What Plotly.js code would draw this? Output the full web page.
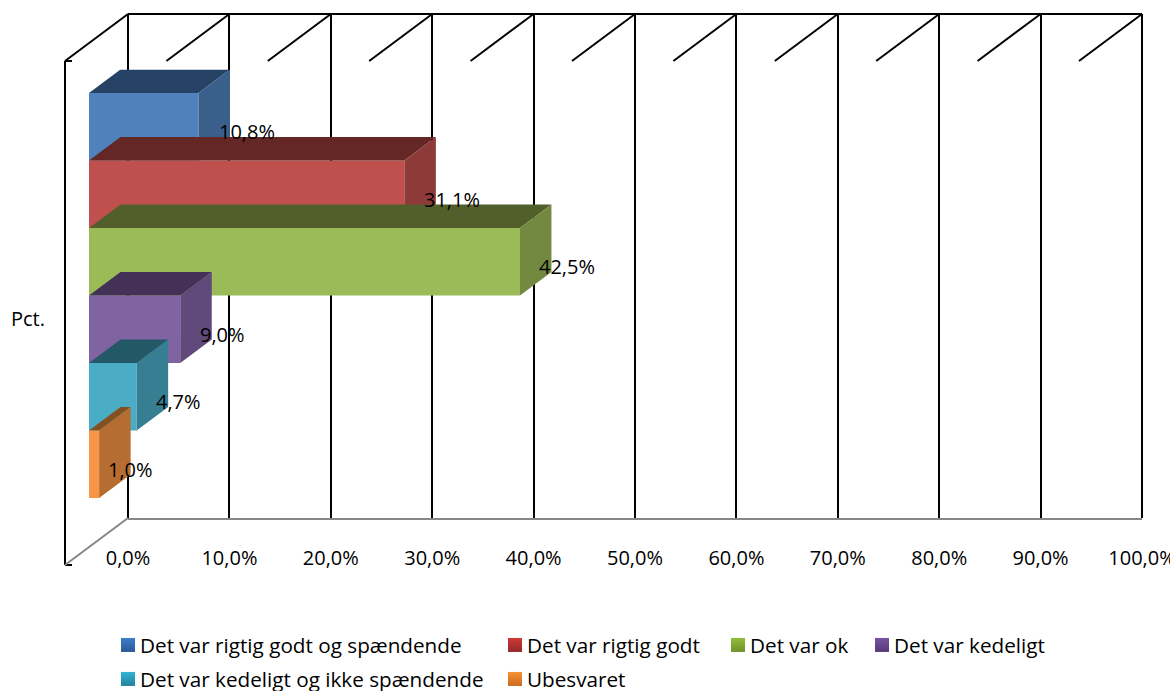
<!DOCTYPE html>
<html><head><meta charset="utf-8">
<script src="https://cdn.plot.ly/plotly-3.0.1.min.js"></script>
<style>html,body{margin:0;padding:0;background:#fff;overflow:hidden;height:691px}</style>
</head><body><div id="chart" style="width:1170px;height:720px"></div>
<script>
// ---- data ----
const categories = ["Det var rigtig godt og spændende","Det var rigtig godt","Det var ok","Det var kedeligt","Det var kedeligt og ikke spændende","Ubesvaret"];
const values = [0.108,0.311,0.425,0.090,0.047,0.010];
const axisTicks = [0,0.1,0.2,0.3,0.4,0.5,0.6,0.7,0.8,0.9,1];
const axisLabel = "Pct.";
// ---- style ----
const frontColors = ["#4F81BD","#C0504D","#9BBB59","#8064A2","#4BACC6","#F79646"];
const topColors   = ["#264366","#652725","#535F2A","#433158","#235967","#85501F"];
const sideColors  = ["#3A5F8B","#8E3A38","#73893F","#5F4A7B","#367F93","#B66D31"];
const keyTop      = ["#3E80CC","#CC3B38","#94BD3C","#7853A3","#34B2D6","#F79234"];
const keyBottom   = ["#2B5895","#96282A","#6F9128","#533A75","#22829E","#C96A1C"];
const legendPx = [[100,625],[487,625],[710,625],[854,625],[100,659],[487,659]];
const labelShift = [18,18,17,18,17,7];
const W=1170,H=720, FONT="Open Sans, Noto Sans, sans-serif";
const px=(x)=>x/W, py=(y)=>(H-y)/H;
// depth of the 3-D box and of each bar, in axis units
const wallDX=-63/1014, wallDY=-47/504, barDX=31.5/1014, barDY=-23.5/67.5;

const traces=[];
// the subplot of the back wall holds the gridlines, so give it a trace
traces.push({type:'scatter',x:[0],y:[0],mode:'none',showlegend:false,hoverinfo:'skip',xaxis:'x',yaxis:'y'});
values.forEach((v,i)=>{
  traces.push({type:'bar',orientation:'h',name:categories[i],x:[v],y:[i],width:1,xaxis:'x2',yaxis:'y2',
    marker:{color:frontColors[i],line:{width:0}},cliponaxis:false,hoverinfo:'x+name',
    legend:i===0?'legend':'legend'+(i+1),showlegend:true});
});
values.forEach((v,i)=>{
  const t=i-0.5,b=i+0.5;
  traces.push({type:'scatter',mode:'none',fill:'toself',fillcolor:topColors[i],cliponaxis:false,showlegend:false,hoverinfo:'skip',xaxis:'x2',yaxis:'y2',
    x:[0,v,v+barDX,barDX,0],y:[t,t,t+barDY,t+barDY,t]});
  traces.push({type:'scatter',mode:'none',fill:'toself',fillcolor:sideColors[i],cliponaxis:false,showlegend:false,hoverinfo:'skip',xaxis:'x2',yaxis:'y2',
    x:[v,v+barDX,v+barDX,v,v],y:[t,t+barDY,b+barDY,b,t]});
});

const seg=(x0,y0,x1,y1,color)=>({type:'line',xref:'x domain',yref:'y domain',x0,y0,x1,y1,layer:'below',line:{color,width:2}});
const shapes=[
  seg(0,1,1,1,'#000'), seg(0,0,0,1,'#000'), seg(1,0,1,1,'#000'),
  seg(wallDX,1+wallDY,wallDX,wallDY,'#000'),
  seg(wallDX,1+wallDY,wallDX+7/1014,1+wallDY,'#000'),
  seg(wallDX,wallDY,wallDX+7/1014,wallDY,'#000'),
  seg(wallDX,wallDY,0,0,'#868686')
];
axisTicks.forEach(t=>shapes.push(seg(t+wallDX,1+wallDY,t,1,'#000')));

const annotations=values.map((v,i)=>({xref:'x2',yref:'y2',x:v,y:i,xanchor:'left',yanchor:'middle',xshift:labelShift[i],yshift:-5,
  showarrow:false,text:(v*100).toFixed(1).replace('.',',')+'%',font:{family:FONT,size:20,color:'#000'}}));
annotations.push({xref:'paper',yref:'paper',x:px(27.5),y:py(318),xanchor:'center',yanchor:'middle',showarrow:false,text:axisLabel,font:{family:FONT,size:20,color:'#000'}});

const layout={width:W,height:H,paper_bgcolor:'#fff',plot_bgcolor:'rgba(0,0,0,0)',separators:', ',
  margin:{l:0,r:0,t:0,b:0,pad:0,autoexpand:false},font:{family:FONT,size:20,color:'#000'},hovermode:'closest',
  xaxis:{domain:[px(128),px(1142)],range:[0,1],tickmode:'array',tickvals:axisTicks,tickformat:'.1%',showgrid:true,gridcolor:'#000',gridwidth:2,
    zeroline:false,showline:true,linecolor:'#868686',linewidth:2,ticks:'',ticklabelstandoff:21,ticklabeloverflow:'allow',tickfont:{family:FONT,size:20,color:'#000'},anchor:'y'},
  yaxis:{domain:[py(518),py(14)],range:[0,1],visible:false,anchor:'x'},
  xaxis2:{domain:[px(89),px(1103)],range:[0,1],visible:false,anchor:'y2'},
  yaxis2:{domain:[py(498),py(93-23.5)],range:[5.5,-0.5+barDY],visible:false,anchor:'x2'},
  shapes,annotations,barmode:'overlay'
};
legendPx.forEach((p,i)=>{
  layout[i===0?'legend':'legend'+(i+1)]={x:px(p[0]),y:py(p[1]),xanchor:'left',yanchor:'top',bgcolor:'rgba(0,0,0,0)',borderwidth:0,
    font:{family:FONT,size:20.7,color:'#000'},itemclick:false,itemdoubleclick:false};
});

// legend keys of the original are small gradient squares, closer to their text
const NS='http://www.w3.org/2000/svg';
const holder=document.createElementNS(NS,'svg');
holder.setAttribute('width','0');holder.setAttribute('height','0');holder.style.position='absolute';
const defs=document.createElementNS(NS,'defs');holder.appendChild(defs);
let css='';
frontColors.forEach((c,i)=>{
  const g=document.createElementNS(NS,'linearGradient');
  g.setAttribute('id','key'+i);g.setAttribute('x1','0');g.setAttribute('y1','0');g.setAttribute('x2','0');g.setAttribute('y2','1');
  [[0,keyTop[i]],[1,keyBottom[i]]].forEach(s=>{const st=document.createElementNS(NS,'stop');st.setAttribute('offset',s[0]);st.setAttribute('stop-color',s[1]);g.appendChild(st);});
  defs.appendChild(g);
  const cls=i===0?'legend':'legend'+(i+1);
  css+=`g.${cls} .legendpoints path{fill:url(#key${i}) !important;d:path('M7,7H-7V-7H7Z');transform:translate(28px,0)}\n`;
});
document.body.appendChild(holder);
const st=document.createElement('style');st.textContent=css;document.head.appendChild(st);

Plotly.newPlot('chart',traces,layout,{displayModeBar:false,responsive:false});
</script></body></html>
